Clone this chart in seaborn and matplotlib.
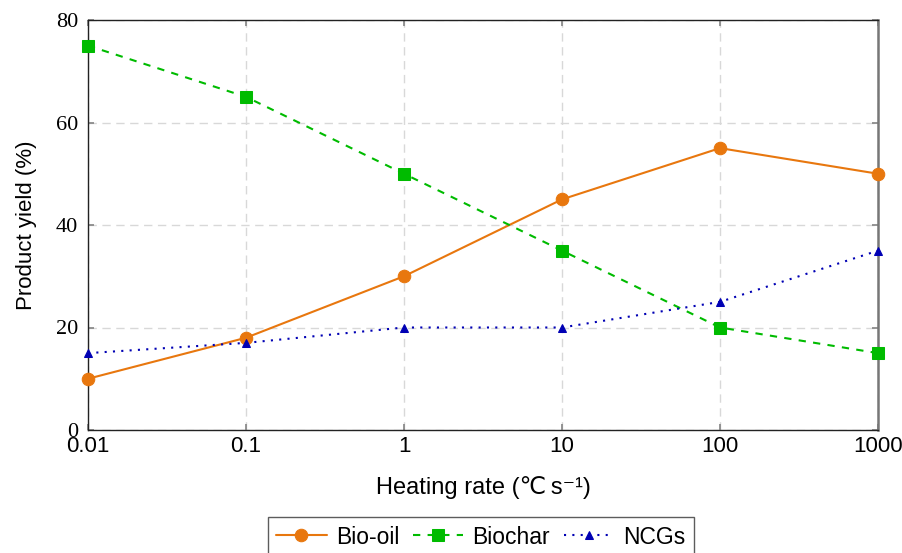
import matplotlib
matplotlib.use("Agg")
import matplotlib.pyplot as plt
import seaborn as sns
import pandas as pd

heating_rate = [0.01, 0.1, 1, 10, 100, 1000]
bio_oil = [10, 18, 30, 45, 55, 50]
biochar = [75, 65, 50, 35, 20, 15]
ncgs = [15, 17, 20, 20, 25, 35]
x_tick_labels = ["0.01", "0.1", "1", "10", "100", "1000"]
y_ticks = [0, 20, 40, 60, 80]

sns.set_theme(style="white")
plt.rcParams["font.family"] = ["Liberation Sans", "DejaVu Sans"]
plt.rcParams["text.color"] = "black"
plt.rcParams["axes.labelcolor"] = "black"

df = pd.DataFrame({
    "rate": heating_rate * 3,
    "yield": bio_oil + biochar + ncgs,
    "product": ["Bio-oil"] * 6 + ["Biochar"] * 6 + ["NCGs"] * 6,
})

fig = plt.figure(figsize=(9.02, 5.53), dpi=100)
ax = fig.add_axes([88 / 902, 1 - 430 / 553, (878 - 88) / 902, (430 - 20) / 553])

palette = {"Bio-oil": "#E8770E", "Biochar": "#00BB00", "NCGs": "#0000B4"}
styles = {
    "Bio-oil": dict(ls="-", marker="o", ms=9),
    "Biochar": dict(ls=(0, (3.5, 3.5)), marker="s", ms=8),
    "NCGs": dict(ls=(0, (1, 3)), marker="^", ms=6),
}
for name in ["Bio-oil", "Biochar", "NCGs"]:
    sub = df[df["product"] == name]
    sns.lineplot(data=sub, x="rate", y="yield", ax=ax, color=palette[name],
                 linestyle=styles[name]["ls"], marker=styles[name]["marker"],
                 markersize=styles[name]["ms"], markeredgecolor=palette[name],
                 lw=1.5, label=name, legend=False, clip_on=False, zorder=3)

ax.set_xscale("log")
ax.set_xlim(0.01, 1000)
ax.set_ylim(0, 80)
ax.set_xticks(heating_rate)
ax.set_xticklabels(x_tick_labels)
ax.xaxis.set_minor_locator(matplotlib.ticker.NullLocator())
ax.set_yticks(y_ticks)
ax.set_yticklabels([str(v) for v in y_ticks], fontfamily="Liberation Serif", fontsize=18)

ax.grid(True, color="#d8d8d8", linestyle=(0, (6, 4)), lw=1)
ax.set_axisbelow(True)
for s in ax.spines.values():
    s.set_color("#222222")
    s.set_linewidth(1.0)
ax.spines["right"].set_color("#777777")
ax.spines["right"].set_linewidth(1.8)

ax.tick_params(axis="both", direction="in", length=4, color="#888888",
               labelsize=16, labelcolor="black", pad=4, left=True, bottom=True)
ax.tick_params(axis="y", right=True, pad=7)
ax.tick_params(axis="x", top=True, pad=4)

ax.set_xlabel("Heating rate (\u2103\u2009s\u207b\u00b9)", fontsize=17, labelpad=14,
              fontfamily=["Liberation Sans", "DejaVu Sans"])
ax.set_ylabel("Product yield (%)", fontsize=16, labelpad=14)

handles, labels = ax.get_legend_handles_labels()
leg = fig.legend(handles, labels, loc="center", bbox_to_anchor=(481 / 902, 1 - 537 / 553),
                 ncol=3, frameon=True, fontsize=16.5, handlelength=2.2, handletextpad=0.4,
                 columnspacing=0.6, borderpad=0.35, fancybox=False, edgecolor="#333333")
leg.get_frame().set_linewidth(1.0)

fig.savefig("out.png", dpi=100)
